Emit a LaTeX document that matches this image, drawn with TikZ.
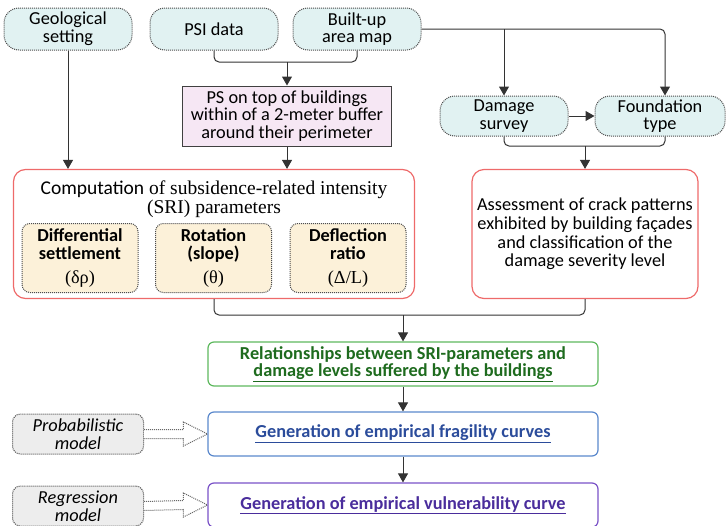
\documentclass[tikz,border=0pt]{standalone}
\usepackage{fontspec}
\setmainfont{Carlito}
\newfontfamily\timesfont{Liberation Serif}
\usetikzlibrary{arrows.meta}
\definecolor{datafill}{HTML}{E1F2F2}
\definecolor{psfill}{HTML}{F6E7F4}
\definecolor{srifill}{HTML}{FCF1D9}
\definecolor{modelfill}{HTML}{EDEDED}
\definecolor{redline}{HTML}{EE6A6A}
\definecolor{greenline}{HTML}{5DB85D}
\definecolor{greentext}{HTML}{1E6B1E}
\definecolor{blueline}{HTML}{5A88CC}
\definecolor{bluetext}{HTML}{2B4C9B}
\definecolor{purpleline}{HTML}{7A52C7}
\definecolor{purpletext}{HTML}{4A2D9C}
\begin{document}
\begin{tikzpicture}[x=1pt,y=-1pt,
  font=\fontsize{18.3}{17.6}\selectfont,
  input/.style={draw=black!70, densely dotted, line width=1pt, fill=datafill,
    rounded corners=15pt, minimum width=128pt, minimum height=42pt,
    align=center, inner sep=0pt},
  psbox/.style={draw=black!75, line width=1pt, fill=psfill, minimum width=209pt,
    minimum height=60pt, align=center, inner sep=0pt},
  redbox/.style={draw=redline, line width=1.2pt, rounded corners=12pt,
    minimum height=129pt, align=center, inner sep=0pt},
  sri/.style={draw=black!70, densely dotted, line width=1pt, fill=srifill,
    rounded corners=8pt, minimum width=116pt, minimum height=69pt,
    align=center, inner sep=0pt, font=\fontsize{18.3}{17.6}\selectfont\bfseries},
  result/.style={line width=1.2pt, rounded corners=6pt, minimum width=390pt,
    minimum height=44pt, align=center, inner sep=0pt,
    font=\fontsize{18.3}{17.6}\selectfont\bfseries},
  model/.style={draw=black!70, densely dotted, line width=1pt, fill=modelfill,
    rounded corners=8pt, minimum width=131pt, minimum height=40pt,
    align=center, inner sep=0pt, font=\fontsize{18.3}{17.6}\selectfont\itshape},
  line/.style={draw=black!80, line width=1pt, rounded corners=5pt},
  arrow/.style={line, -{Triangle[width=10pt,length=9pt]}},
  hollow/.style={draw=black!60, densely dotted, line width=1pt, fill=white}]

\useasboundingbox (0,0) rectangle (728,525);

% inputs
\node[input] (geo) at (68,29) {Geological\\setting};
\node[input] (psi) at (214,29) {PSI data};
\node[input] (built) at (357,29) {Built-up\\area map};
\node[psbox] (ps) at (287,116) {PS on top of buildings\\within of a 2-meter buffer\\around their perimeter};
\node[input, minimum height=40pt] (damage) at (504,116) {Damage\\survey};
\node[input, minimum width=130pt, minimum height=40pt] (found) at (660,116) {Foundation\\type};

% SRI parameters
\node[redbox, minimum width=401pt] (comp) at (214,234) {};
\node[align=center, font=\fontsize{19.5}{19}\timesfont] (comptitle) at (214,199)
  {{\normalfont Computation} of subsidence-related intensity\\(SRI) parameters};
\node[sri] (diff) at (80,258) {Differential\\settlement\\[6pt]{\mdseries\timesfont(δρ)}};
\node[sri] (rot) at (213.5,258) {Rotation\\(slope)\\[6pt]{\mdseries\timesfont(θ)}};
\node[sri] (defl) at (348,258) {Deflection\\ratio\\[6pt]{\mdseries\timesfont(Δ/L)}};

% damage assessment
\node[redbox, minimum width=226pt, font=\fontsize{18.3}{18.7}\selectfont] (assess) at (585,234)
  {Assessment of crack patterns\\exhibited by building façades\\and classification of the\\damage severity level};

% results
\node[result, draw=greenline, text=greentext] (rel) at (403,364)
  {Relationships between SRI-parameters and\\\underline{damage levels suffered by the buildings}};
\node[result, draw=blueline, text=bluetext] (frag) at (403,434)
  {\underline{Generation of empirical fragility curves}};
\node[result, draw=purpleline, text=purpletext] (vuln) at (403,505)
  {\underline{Generation of empirical vulnerability curve}};
\node[model] (prob) at (78,434) {Probabilistic\\model};
\node[model] (reg) at (78,506) {Regression\\model};

% connectors
\draw[line] (psi.south) |- (287,62) coordinate (j1) -| (built.south);
\draw[arrow] (j1) -- (ps.north);
\draw[arrow] (geo.south) -- (geo.south |- comp.north);
\draw[arrow] (ps.south) -- (ps.south |- comp.north);
\draw[arrow] (built.east) -| ([xshift=5pt]found.north);
\draw[arrow] (built.east -| damage.north) -- (damage.north);
\draw[arrow] (damage.east) -- (found.west);
\draw[line] (damage.south) |- (585,146) coordinate (j2) -| ([xshift=5pt]found.south);
\draw[arrow] (j2) -- (assess.north);
\draw[line] (comp.south) |- (403,315) coordinate (j3) -| (assess.south);
\draw[arrow] (j3) -- (rel.north);
\draw[arrow] (rel.south) -- (frag.north);
\draw[arrow] (frag.south) -- (vuln.north);
\foreach \m/\r in {prob/frag, reg/vuln}
  \draw[hollow] ([yshift=4.5pt]\m.east) -- ([xshift=-24pt,yshift=4.5pt]\r.west)
    -- ([xshift=-24pt,yshift=12pt]\r.west) -- (\r.west)
    -- ([xshift=-24pt,yshift=-12pt]\r.west) -- ([xshift=-24pt,yshift=-4.5pt]\r.west)
    -- ([yshift=-4.5pt]\m.east);
\end{tikzpicture}
\end{document}
